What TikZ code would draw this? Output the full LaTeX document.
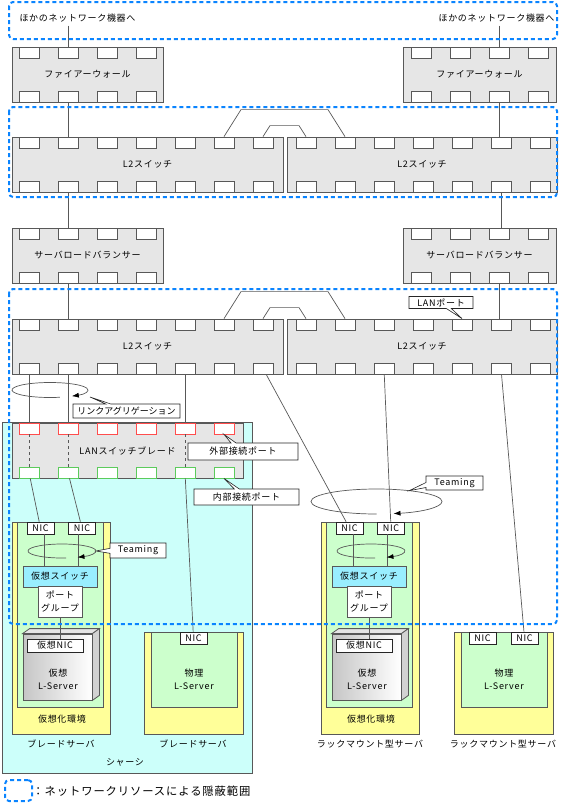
\documentclass[tikz,border=0pt]{standalone}
\usepackage{fontspec}
\setmainfont{Noto Sans CJK JP}[LetterSpace=8]
\usepackage{xcolor}
\usepackage{tikz}
\usetikzlibrary{arrows.meta,positioning,calc,shapes.callouts}
\definecolor{cachebleu}{HTML}{0A84FF}
\definecolor{chassiscyan}{HTML}{CCFFFA}
\definecolor{serveurjaune}{HTML}{FFFF99}
\definecolor{envvert}{HTML}{CCFFCC}
\definecolor{vswbleu}{HTML}{99EEFF}
\definecolor{boitegris}{HTML}{E6E6E6}
\definecolor{traitgris}{HTML}{585858}
\definecolor{portrouge}{HTML}{FF4D4D}
\definecolor{portvert}{HTML}{5CCB5C}

\begin{document}
\begin{tikzpicture}[x=1pt,y=-1pt,
    font=\fontsize{9}{10}\selectfont,
    boite/.style   = {draw=traitgris,line width=1pt,fill=boitegris,inner sep=0pt},
    port/.style    = {draw=traitgris,line width=0.8pt,fill=white,inner sep=0pt,
                      minimum width=20pt,minimum height=11pt},
    portext/.style = {port,draw=portrouge},
    portint/.style = {port,draw=portvert},
    cable/.style   = {draw=traitgris,line width=0.7pt},
    fleche/.style  = {-{Latex[length=7pt,width=5pt,color=black]}},
    bulle/.style   = {rectangle callout,draw=black!85,fill=white,line width=0.6pt,
                      inner sep=1pt,callout pointer width=5pt},
    nic/.style     = {draw=black!85,fill=white,line width=0.6pt,inner sep=0pt,
                      minimum width=27pt,minimum height=12pt},
    serveur/.style = {draw=traitgris,line width=0.8pt,fill=serveurjaune,inner sep=0pt},
    env/.style     = {draw=traitgris,line width=0.8pt,fill=envvert,inner sep=0pt},
    vsw/.style     = {draw=traitgris,line width=0.8pt,fill=vswbleu,inner sep=0pt,
                      minimum width=74pt,minimum height=21pt},
    groupe/.style  = {draw=traitgris,line width=0.8pt,fill=white,align=center,inner sep=0pt,
                      minimum width=44pt,minimum height=31pt,font=\fontsize{9}{13.5}\selectfont},
    vm/.style      = {draw=traitgris,line width=0.8pt,left color=gray!45,right color=white,
                      inner sep=0pt,minimum width=69pt,minimum height=66pt},
    face/.style    = {draw=traitgris,line width=0.8pt},
    deux/.style    = {align=center,font=\fontsize{9}{13}\selectfont},
    cache/.style   = {draw=cachebleu,line width=2pt,dash pattern=on 4pt off 3pt,rounded corners=4pt},
  ]
  \useasboundingbox (0,0) rectangle (560,803);

  % Châssis
  \node[draw=traitgris,line width=0.8pt,fill=chassiscyan,inner sep=0pt,
        minimum width=250pt,minimum height=351pt] (chassis) at (127,597.5) {};
  \node (chassis-txt) at (125,762) {シャーシ};

  % Pare-feu et répartiteurs
  \foreach \dev/\xc/\yc/\w/\xp/\txt in {
      fwA/87.5/74.5/151/29/ファイアーウォール,
      fwB/479.5/74.5/153/421/ファイアーウォール,
      slbA/87.5/255.5/151/29/サーバロードバランサー,
      slbB/479.5/255.5/153/421/サーバロードバランサー}
  {
    \node[boite,minimum width=\w pt,minimum height=55pt] (\dev) at (\xc,\yc) {\txt};
    \foreach \i in {1,...,4} {
      \node[port] (\dev-t\i) at ({\xp+39*(\i-1)},\yc-22) {};
      \node[port] (\dev-b\i) at ({\xp+39*(\i-1)},\yc+22) {};
    }
  }

  % Commutateurs L2
  \foreach \dev/\xc/\yc/\w/\xp in {
      swA1/147.5/164.5/271/29, swA2/422/164.5/270/306,
      swB1/147.5/346.5/271/29, swB2/422/346.5/270/306}
  {
    \node[boite,minimum width=\w pt,minimum height=55pt] (\dev) at (\xc,\yc) {L2スイッチ};
    \foreach \i in {1,...,7} {
      \node[port] (\dev-t\i) at ({\xp+39*(\i-1)},\yc-22) {};
      \node[port] (\dev-b\i) at ({\xp+39*(\i-1)},\yc+22) {};
    }
  }
  \foreach \s in {A,B} {
    \draw[cable] (sw\s1-t6.north) -- ++(17,-27) -- ($(sw\s2-t2.north)+(-17,-27)$) -- (sw\s2-t2.north);
    \draw[cable] (sw\s1-t7.north) -- ++(7,-11) -- ($(sw\s2-t1.north)+(-7,-11)$) -- (sw\s2-t1.north);
  }

  % Autres équipements
  \node[anchor=west] (autreA) at (16,18) {ほかのネットワーク機器へ};
  \node[anchor=east] (autreB) at (558,18) {ほかのネットワーク機器へ};
  \draw[cable] (autreA.south -| fwA-t2) -- (fwA-t2);
  \draw[cable] (autreB.south -| fwB-t3) -- (fwB-t3);
  \draw[cable] (fwA-b2) -- (swA1-t2);
  \draw[cable] (fwB-b3.south) -- (fwB-b3.south |- swA2-t6.north);
  \draw[cable] (swA1-b2) -- (slbA-t2);
  \draw[cable] (swA2-b6.south) -- (swA2-b6.south |- slbB-t3.north);
  \draw[cable] (slbA-b2) -- (swB1-t2);
  \draw[cable] (slbB-b3.south) -- (slbB-b3.south |- swB2-t6.north);
  \node[bulle,minimum width=64pt,minimum height=12pt,
        callout absolute pointer={(swB2-t5.north)}] (lanport) at (441,302.5) {LANポート};

  % Lame de commutation
  \node[boite,minimum width=231pt,minimum height=55pt] (lsb) at (127.5,450.5) {LANスイッチブレード};
  \foreach \i in {1,...,6} {
    \node[portext] (lsb-r\i) at ({29+39*(\i-1)},428.5) {};
    \node[portint] (lsb-g\i) at ({29+39*(\i-1)},472.5) {};
  }
  \foreach \i in {1,2,5} {
    \draw[cable] (swB1-b\i) -- (lsb-r\i);
    \draw[cable,dash pattern=on 3pt off 3pt] (lsb-r\i) -- (lsb-g\i);
  }
  \coordinate (agr) at (50,390);
  \draw[cable,fleche] ($(agr)+(75:38 and 7.5)$) arc[start angle=75,end angle=415,x radius=38,y radius=7.5];
  \node[bulle,minimum width=107pt,minimum height=14pt,
        callout absolute pointer={($(agr)+(40,7)$)}] (agr-txt) at (126.5,411)
        {\addfontfeature{LetterSpace=0}リンクアグリゲーション};
  \node[bulle,minimum width=110pt,minimum height=17pt,
        callout absolute pointer={(lsb-r6.south)}] (ext-txt) at (243,451.5) {外部接続ポート};
  \node[bulle,minimum width=105pt,minimum height=16pt,
        callout absolute pointer={(lsb-g6.south)}] (int-txt) at (246.5,497) {内部接続ポート};

  % Serveurs virtualisés
  \foreach \v/\dx/\lbl in {bsA/0/ブレードサーバ, rkA/309/ラックマウント型サーバ}
  {
    \node[serveur,minimum width=98pt,minimum height=212pt] (\v) at ({61+\dx},628) {};
    \node[env,minimum width=86pt,minimum height=185pt] (\v-env) at ({60.5+\dx},614.5) {};
    \node (\v-envtxt) at ({62+\dx},719) {仮想化環境};
    \node (\v-txt) at ({61+\dx},744) {\lbl};
    \node[nic] (\v-nic1) at ({40.5+\dx},528) {NIC};
    \node[nic] (\v-nic2) at ({82+\dx},528) {NIC};
    \node[vsw] (\v-vsw) at ({60+\dx},576.5) {仮想スイッチ};
    \node[groupe] (\v-pg) at ({60+\dx},601.5) {ポート\\グループ};
    \node[vm] (\v-vm) at ({57.5+\dx},667) {};
    \filldraw[face,fill=gray!20] (\v-vm.north west) -- ++(7,-5)
      -- ($(\v-vm.north east)+(7,-5)$) -- (\v-vm.north east) -- cycle;
    \filldraw[face,fill=gray!35] (\v-vm.north east) -- ++(7,-5)
      -- ($(\v-vm.south east)+(7,-5)$) -- (\v-vm.south east) -- cycle;
    \node[nic,minimum width=56pt,minimum height=13pt] (\v-vnic) at ({55+\dx},645.5) {仮想NIC};
    \node[deux] (\v-vmtxt) at ({58+\dx},679.5) {仮想\\L-Server};
    \coordinate (\v-tm) at ({62+\dx},551);
    \draw[cable] ($(\v-nic1.south)+(4,0)$) -- ($(\v-vsw.north -| \v-nic1.south)+(4,0)$);
    \draw[cable] ($(\v-nic2.south)+(-4,0)$) -- ($(\v-vsw.north -| \v-nic2.south)+(-4,0)$);
    \draw[cable,fleche] ($(\v-tm)+(83:34 and 7)$) arc[start angle=83,end angle=423,x radius=34,y radius=7];
    \draw[cable] (\v-pg.south) -- (\v-pg.south |- \v-vnic.north);
  }
  \node[bulle,minimum width=56pt,minimum height=15pt,
        callout absolute pointer={($(bsA-tm)+(0:34 and 7)$)}] (bsA-tmtxt) at (138,550.5) {Teaming};

  % Serveurs physiques
  \node[serveur,minimum width=99pt,minimum height=102pt] (bsB) at (193.5,683) {};
  \node[env,minimum width=86pt,minimum height=75pt] (bsB-env) at (194,669.5) {};
  \node[nic] (bsB-nic) at (193.5,638) {NIC};
  \node[deux] (bsB-srv) at (194,679.5) {物理\\L-Server};
  \node (bsB-txt) at (193,744) {ブレードサーバ};

  \node[serveur,minimum width=99pt,minimum height=102pt] (rkB) at (503.5,683) {};
  \node[env,minimum width=86pt,minimum height=75pt] (rkB-env) at (504,669.5) {};
  \node[nic] (rkB-nic1) at (482.5,638) {NIC};
  \node[nic] (rkB-nic2) at (524.5,638) {NIC};
  \node[deux] (rkB-srv) at (504,679.5) {物理\\L-Server};
  \node (rkB-txt) at (503,744) {ラックマウント型サーバ};

  % Liaisons vers les serveurs
  \draw[cable] (lsb-g1) -- (bsA-nic1);
  \draw[cable] (lsb-g2) -- (bsA-nic2);
  \draw[cable] (lsb-g5) -- (bsB-nic);
  \draw[cable] (swB1-b7) -- (rkA-nic1);
  \draw[cable] (swB2-b3) -- (rkA-nic2);
  \draw[cable] (swB2-b6) -- (rkB-nic2);
  \coordinate (tmC) at (376.5,501.5);
  \draw[cable,fleche] ($(tmC)+(90:65.5 and 12.5)$) arc[start angle=90,end angle=435,x radius=65.5,y radius=12.5];
  \node[bulle,minimum width=57pt,minimum height=14pt,
        callout absolute pointer={($(tmC)+(300:65.5 and 12.5)$)}] (tmC-txt) at (454.5,483) {Teaming};

  % Zones masquées
  \draw[cache] (9,2) rectangle (557,39);
  \draw[cache] (9,107) rectangle (557,197);
  \draw[cache] (9,289) rectangle (557,624);

  % Légende
  \node[cache,inner sep=0pt,minimum width=27pt,minimum height=21pt] (leg-cadre) at (18.5,790.5) {};
  \node[anchor=west,font=\fontsize{11.3}{12}\selectfont] (leg-txt) at (29,791)
        {：ネットワークリソースによる隠蔽範囲};

\end{tikzpicture}
\end{document}
